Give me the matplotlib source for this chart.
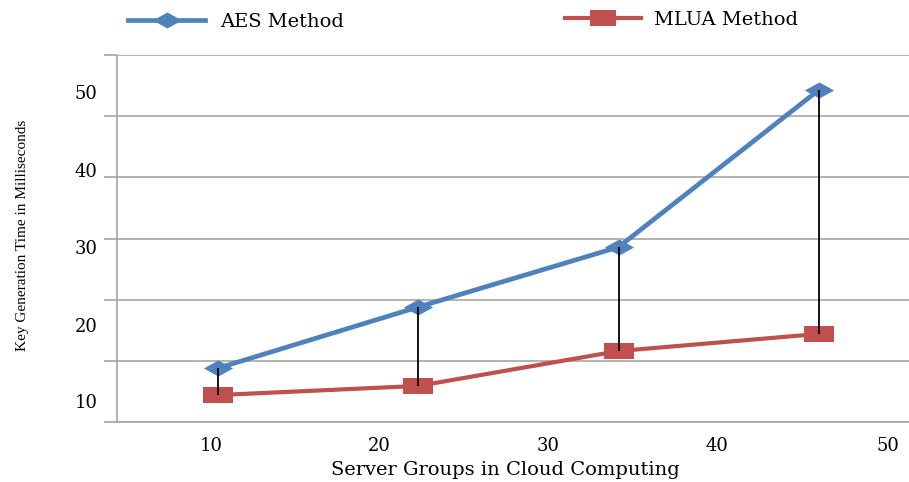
import numpy as np
import matplotlib
matplotlib.use("Agg")
import matplotlib.pyplot as plt
from matplotlib.path import Path
from matplotlib.lines import Line2D

# ---- data ----
series_names = ["AES Method", "MLUA Method"]
server_groups = ["10", "20", "30", "40", "50"]          # x tick labels
aes_ms = [8.8, 18.8, 28.6, 54.3]                          # AES key generation time
mlua_ms = [4.4, 5.9, 11.6, 14.4]                          # MLUA key generation time
y_tick_labels = ["50", "40", "30", "20", "10"]

# ---- layout / style (not data) ----
x_label_pos = [-0.035, 0.804, 1.648, 2.491, 3.345]
y_label_pos = [53.9, 41.2, 28.6, 15.9, 3.4]
blue = "#4F81BD"
red = "#C0504D"
grid_c = "#A6A6A6"

diamond = Path([(-1, 0), (0, 0.55), (1, 0), (0, -0.55), (-1, 0)],
               [Path.MOVETO, Path.LINETO, Path.LINETO, Path.LINETO, Path.CLOSEPOLY])
rect = Path([(-1, -0.58), (1, -0.58), (1, 0.58), (-1, 0.58), (-1, -0.58)],
            [Path.MOVETO, Path.LINETO, Path.LINETO, Path.LINETO, Path.CLOSEPOLY])

W, H = 909, 482
fig = plt.figure(figsize=(W / 100, H / 100), dpi=100)
ax = fig.add_axes([117 / W, 60 / H, 792 / W, 367 / H])

x = np.arange(len(aes_ms))
ax.plot(x, aes_ms, color=blue, lw=3.4, marker=diamond, ms=21, mew=0,
        mfc=blue, zorder=3, solid_capstyle="round")
ax.plot(x, mlua_ms, color=red, lw=3.0, marker=rect, ms=21, mew=0,
        mfc=red, zorder=3, solid_capstyle="round")
ax.vlines(x, mlua_ms, aes_ms, color="black", lw=1.3, zorder=4)

ax.set_xlim(-0.504, 3.45)
ax.set_ylim(0, 60)

# gridlines (major y) with left tick stubs
ax.set_yticks(np.arange(0, 61, 10))
ax.set_yticklabels([])
ax.tick_params(axis="y", which="major", length=9.4, width=1.2, color=grid_c, direction="out")
ax.yaxis.grid(True, which="major", color=grid_c, lw=1.2)
ax.set_yticks(y_label_pos, y_tick_labels, minor=True)
ax.tick_params(axis="y", which="minor", length=0, pad=14,
               labelsize=13, labelfontfamily="DejaVu Serif")

ax.set_xticks(x_label_pos, server_groups)
ax.tick_params(axis="x", length=0, pad=11, labelsize=13, labelfontfamily="DejaVu Serif")

for s in ["top", "right"]:
    ax.spines[s].set_visible(False)
for s in ["left", "bottom"]:
    ax.spines[s].set_color(grid_c)
    ax.spines[s].set_linewidth(1.2)
ax.set_axisbelow(True)

ax.set_xlabel("Server Groups in Cloud Computing", fontsize=14,
              family="DejaVu Serif", va="center")
ax.xaxis.set_label_coords((505 - 117) / 792, (422 - 470) / 367)
ax.set_ylabel("Key Generation Time in Milliseconds", fontsize=11,
              family="Liberation Serif", va="center")
ax.yaxis.set_label_coords((23 - 117) / 792, (422 - 235) / 367)

# legends
h1 = Line2D([], [], color=blue, lw=3.4, marker=diamond, ms=21, mew=0, mfc=blue)
h2 = Line2D([], [], color=red, lw=3.0, marker=rect, ms=19, mew=0, mfc=red)
fs = 14
fspx = fs * 100 / 72
leg1 = fig.legend([h1], [series_names[0]], loc="center left",
                  bbox_to_anchor=(128 / W, 1 - 22 / H), frameon=False,
                  borderpad=0, borderaxespad=0, handlelength=77 / fspx,
                  handletextpad=15 / fspx, prop={"family": "DejaVu Serif", "size": fs})
leg2 = fig.legend([h2], [series_names[1]], loc="center left",
                  bbox_to_anchor=(565 / W, 1 - 20 / H), frameon=False,
                  borderpad=0, borderaxespad=0, handlelength=76 / fspx,
                  handletextpad=13 / fspx, prop={"family": "DejaVu Serif", "size": fs})

fig.savefig("out.png", dpi=100)
